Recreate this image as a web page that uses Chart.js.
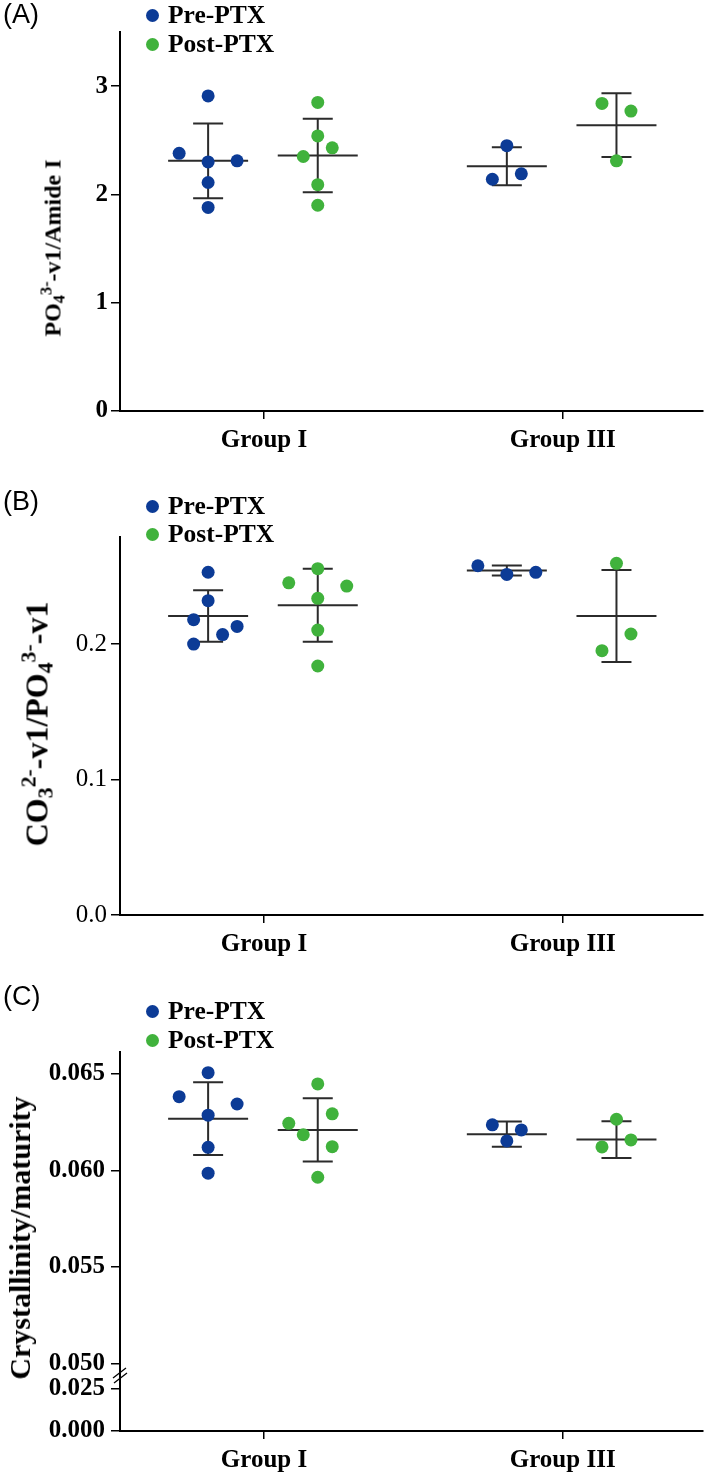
<!DOCTYPE html>
<html>
<head>
<meta charset="utf-8">
<script src="https://cdn.jsdelivr.net/npm/chart.js@4.4.1/dist/chart.umd.min.js"></script>
<style>
  body { margin: 0; background: #fff; width: 709px; height: 1478px; position: relative; overflow: hidden; font-family: 'Liberation Serif', serif; color: #000; }
  .panel { position: absolute; left: 0; }
  .tag { position: absolute; left: 3px; font-family: 'Liberation Sans', Arial, sans-serif; font-size: 27px; line-height: 27px; }
  .leg { position: absolute; left: 146px; font-weight: bold; font-size: 25.5px; line-height: 25px; white-space: nowrap; }
  .dot { display: inline-block; width: 13px; height: 13px; border-radius: 50%; margin-right: 9px; vertical-align: middle; position: relative; top: -2px; }
  .ytitle { position: absolute; font-weight: bold; white-space: nowrap; transform: translate(-50%, -50%) rotate(-90deg); }
  .sb { font-size: 0.68em; position: relative; top: 0.25em; }
  .sp { font-size: 0.68em; position: relative; top: -0.55em; }
</style>
</head>
<body>
<div class="panel" style="top:0px"><canvas id="chartA" width="709" height="470"></canvas></div>
<div class="panel" style="top:490px"><canvas id="chartB" width="709" height="480"></canvas></div>
<div class="panel" style="top:1000px"><canvas id="chartC" width="709" height="478"></canvas></div>

<div class="tag" style="top:1px">(A)</div>
<div class="tag" style="top:488px">(B)</div>
<div class="tag" style="top:983px">(C)</div>

<div class="leg" style="top:2px"><span class="dot" style="background:#0c3b96"></span>Pre-PTX</div>
<div class="leg" style="top:31px"><span class="dot" style="background:#40b23c"></span>Post-PTX</div>
<div class="leg" style="top:493px"><span class="dot" style="background:#0c3b96"></span>Pre-PTX</div>
<div class="leg" style="top:521px"><span class="dot" style="background:#40b23c"></span>Post-PTX</div>
<div class="leg" style="top:998px"><span class="dot" style="background:#0c3b96"></span>Pre-PTX</div>
<div class="leg" style="top:1027px"><span class="dot" style="background:#40b23c"></span>Post-PTX</div>

<div class="ytitle" style="left:53px;top:248px;font-size:24px">PO<span class="sb">4</span><span class="sp">3-</span>-v1/Amide I</div>
<div class="ytitle" style="left:37px;top:724px;font-size:32px">CO<span class="sb">3</span><span class="sp">2-</span>-v1/PO<span class="sb">4</span><span class="sp">3-</span>-v1</div>
<div class="ytitle" style="left:20px;top:1238px;font-size:30px">Crystallinity/maturity</div>

<script>
const categories = ['Group I', 'Group III'];
const seriesNames = ['Pre-PTX', 'Post-PTX'];

// (A) PO4 v1 / Amide I
const aPreI = [2.91, 2.38, 2.30, 2.31, 2.11, 1.88];
const aPreIII = [2.45, 2.14, 2.19];
const aPostI = [2.85, 2.54, 2.43, 2.35, 2.09, 1.90];
const aPostIII = [2.84, 2.77, 2.31];
const aPreMean = [2.31, 2.26];
const aPreSD = [0.345, 0.175];
const aPostMean = [2.36, 2.64];
const aPostSD = [0.34, 0.295];
const aTicks = [0, 1, 2, 3];

// (B) CO3 v1 / PO4 v1
const bPreI = [0.253, 0.232, 0.218, 0.213, 0.207, 0.200];
const bPreIII = [0.2578, 0.2514, 0.2529];
const bPostI = [0.2556, 0.2452, 0.2428, 0.2337, 0.2103, 0.1838];
const bPostIII = [0.2596, 0.2074, 0.1951];
const bPreMean = [0.2207, 0.2543];
const bPreSD = [0.019, 0.0037];
const bPostMean = [0.2286, 0.2207];
const bPostSD = [0.027, 0.0339];
const bTicks = [0, 0.1, 0.2];

// (C) crystallinity / maturity
const cPreI = [0.06505, 0.06381, 0.06343, 0.06285, 0.06119, 0.05985];
const cPreIII = [0.06235, 0.06209, 0.06152];
const cPostI = [0.06447, 0.06292, 0.06243, 0.06184, 0.06122, 0.05964];
const cPostIII = [0.06264, 0.06121, 0.06157];
const cPreMean = [0.06267, 0.06187];
const cPreSD = [0.00188, 0.00065];
const cPostMean = [0.06209, 0.06159];
const cPostSD = [0.00164, 0.00095];
const cTicks = [0.050, 0.055, 0.060, 0.065];
const cLowTicks = [0, 0.025];

// scatter slot of each point inside its column (-2..2)
const aPreISlot = [0, -2, 0, 2, 0, 0], aPreIIISlot = [0, -1, 1];
const aPostISlot = [0, 0, 1, -1, 0, 0], aPostIIISlot = [-1, 1, 0];
const bPreISlot = [0, 0, -1, 2, 1, -1], bPreIIISlot = [-2, 0, 2];
const bPostISlot = [0, -2, 2, 0, 0, 0], bPostIIISlot = [0, 1, -1];
const cPreISlot = [0, -2, 2, 0, 0, 0], cPreIIISlot = [-1, 1, 0];
const cPostISlot = [0, 1, -2, -1, 1, 0], cPostIIISlot = [0, -1, 1];

const BLUE = '#0c3b96', GREEN = '#40b23c';
const PRE_OFF = -0.187, POST_OFF = 0.18, SLOT = 0.0485;

Chart.defaults.font.family = "'Liberation Serif', serif";
Chart.defaults.color = '#000';

function points(cols, slots, off) {
  const pts = [];
  cols.forEach((vals, g) => vals.forEach((v, i) => pts.push({ x: g + off + slots[g][i] * SLOT, y: v })));
  return pts;
}

function errorBarPlugin(bars, yId) {
  return {
    id: 'errorBars',
    beforeDatasetsDraw(chart) {
      const ctx = chart.ctx, xs = chart.scales.x, ys = chart.scales[yId];
      ctx.save();
      ctx.strokeStyle = '#2b2b2b';
      ctx.lineWidth = 2;
      bars.forEach(b => b.mean.forEach((m, g) => {
        const cx = xs.getPixelForValue(g + b.off);
        const ym = ys.getPixelForValue(m);
        const yt = ys.getPixelForValue(m + b.sd[g]);
        const yb = ys.getPixelForValue(m - b.sd[g]);
        ctx.beginPath();
        ctx.moveTo(cx - 40, ym); ctx.lineTo(cx + 40, ym);
        ctx.moveTo(cx, yt); ctx.lineTo(cx, yb);
        ctx.moveTo(cx - 15, yt); ctx.lineTo(cx + 15, yt);
        ctx.moveTo(cx - 15, yb); ctx.lineTo(cx + 15, yb);
        ctx.stroke();
      }));
      ctx.restore();
    }
  };
}

const breakMarks = {
  id: 'breakMarks',
  afterDraw(chart) {
    const ctx = chart.ctx, y = chart.scales.y.bottom, x = chart.chartArea.left;
    ctx.save();
    ctx.strokeStyle = '#000';
    ctx.lineWidth = 1.3;
    ctx.beginPath();
    ctx.moveTo(x - 7, y + 3); ctx.lineTo(x + 6, y - 7);
    ctx.moveTo(x - 6, y + 8); ctx.lineTo(x + 7, y - 2);
    ctx.stroke();
    ctx.restore();
  }
};

function xScale() {
  return {
    type: 'linear', min: -0.482, max: 1.468,
    afterBuildTicks: s => { s.ticks = categories.map((c, i) => ({ value: i })); },
    afterFit: s => { s.height = 44; },
    ticks: { callback: (v, i) => categories[i], font: { weight: 'bold', size: 25 }, padding: 7, maxRotation: 0, autoSkip: false },
    grid: { drawOnChartArea: false, tickLength: 8, color: '#000', lineWidth: 1.5 },
    border: { color: '#000', width: 2 }
  };
}

function yScale(min, max, tickVals, digits, bold, pad, extra) {
  return Object.assign({
    type: 'linear', position: 'left', min: min, max: max,
    afterBuildTicks: s => { s.ticks = tickVals.map(v => ({ value: v })); },
    afterFit: s => { s.width = 120; },
    ticks: { callback: v => v.toFixed(digits), font: { weight: bold ? 'bold' : 'normal', size: 25 }, padding: pad, autoSkip: false },
    grid: { drawOnChartArea: false, tickLength: 9, color: '#000', lineWidth: 1.5 },
    border: { color: '#000', width: 2 }
  }, extra || {});
}

function datasets(pre, post, yId) {
  const base = { pointRadius: 6.5, pointHoverRadius: 6.5, borderWidth: 0, showLine: false, yAxisID: yId };
  return [
    Object.assign({ label: seriesNames[0], data: pre, backgroundColor: BLUE, borderColor: BLUE }, base),
    Object.assign({ label: seriesNames[1], data: post, backgroundColor: GREEN, borderColor: GREEN }, base)
  ];
}

function commonOptions(pad, scales) {
  return {
    responsive: false, animation: false, events: [],
    layout: { padding: pad },
    plugins: { legend: { display: false }, tooltip: { enabled: false } },
    scales: scales
  };
}

new Chart(document.getElementById('chartA'), {
  type: 'scatter',
  data: { datasets: datasets(points([aPreI, aPreIII], [aPreISlot, aPreIIISlot], PRE_OFF), points([aPostI, aPostIII], [aPostISlot, aPostIIISlot], POST_OFF), 'y') },
  options: commonOptions({ top: 32, right: 6, bottom: 15, left: 0 }, { x: xScale(), y: yScale(0, 3.5, aTicks, 0, true, 3) }),
  plugins: [errorBarPlugin([{ mean: aPreMean, sd: aPreSD, off: PRE_OFF }, { mean: aPostMean, sd: aPostSD, off: POST_OFF }], 'y')]
});

new Chart(document.getElementById('chartB'), {
  type: 'scatter',
  data: { datasets: datasets(points([bPreI, bPreIII], [bPreISlot, bPreIIISlot], PRE_OFF), points([bPostI, bPostIII], [bPostISlot, bPostIIISlot], POST_OFF), 'y') },
  options: commonOptions({ top: 47, right: 6, bottom: 11, left: 0 }, { x: xScale(), y: yScale(0, 0.279, bTicks, 1, false, 4) }),
  plugins: [errorBarPlugin([{ mean: bPreMean, sd: bPreSD, off: PRE_OFF }, { mean: bPostMean, sd: bPostSD, off: POST_OFF }], 'y')]
});

new Chart(document.getElementById('chartC'), {
  type: 'scatter',
  data: { datasets: datasets(points([cPreI, cPreIII], [cPreISlot, cPreIIISlot], PRE_OFF), points([cPostI, cPostIII], [cPostISlot, cPostIIISlot], POST_OFF), 'y') },
  options: commonOptions({ top: 52, right: 6, bottom: 3, left: 0 }, {
    x: xScale(),
    yLow: yScale(0, 0.0333, cLowTicks, 3, true, 6, { stack: 'c', stackWeight: 56 }),
    y: yScale(0.04941, 0.06612, cTicks, 3, true, 6, { stack: 'c', stackWeight: 323 })
  }),
  plugins: [errorBarPlugin([{ mean: cPreMean, sd: cPreSD, off: PRE_OFF }, { mean: cPostMean, sd: cPostSD, off: POST_OFF }], 'y'), breakMarks]
});
</script>
</body>
</html>
